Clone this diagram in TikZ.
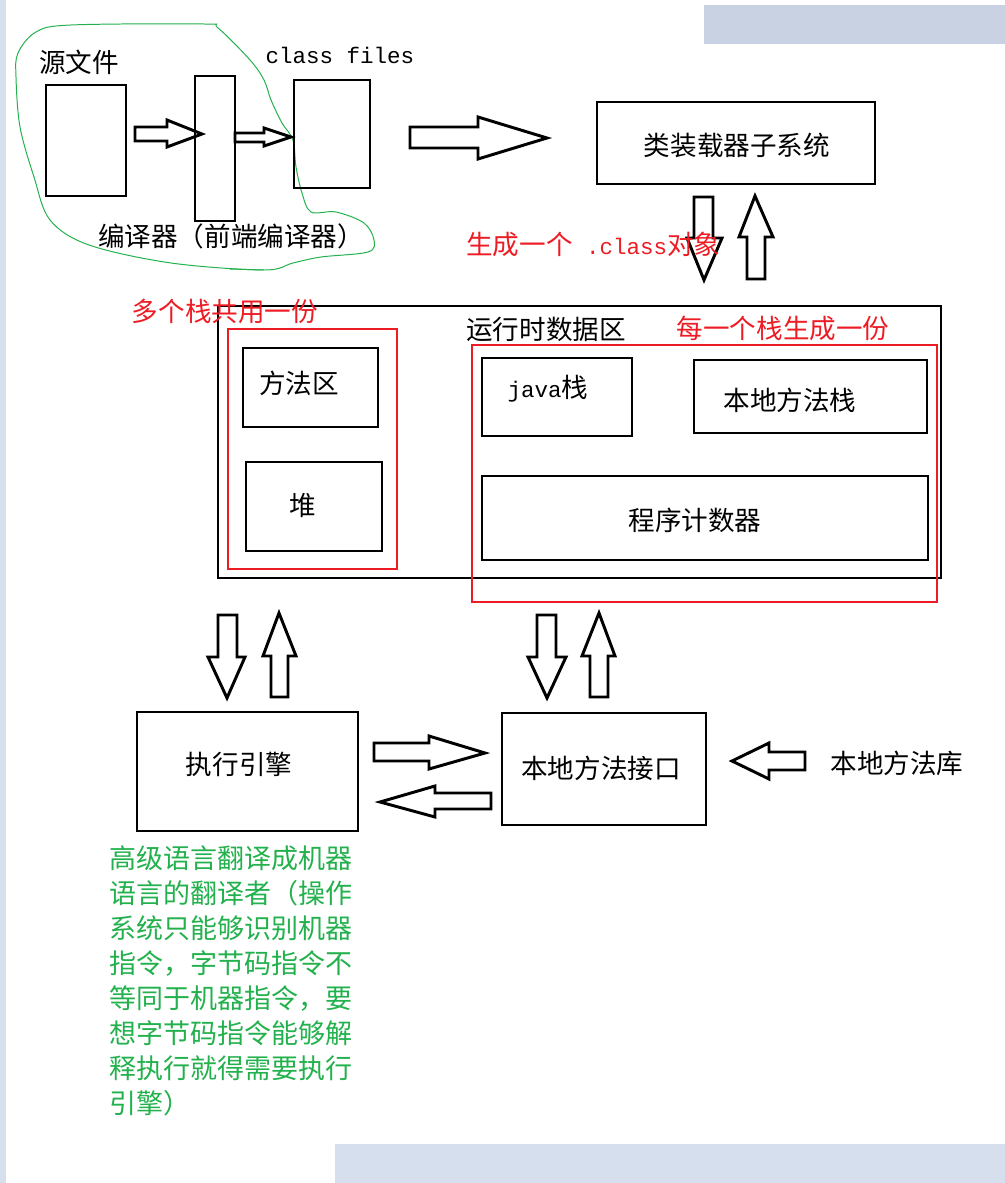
\documentclass[tikz,border=0pt]{standalone}
\usepackage{fontspec}
\setmainfont{Noto Sans CJK SC}
\newfontfamily\mono{Liberation Mono}
\definecolor{paintred}{HTML}{ED1C24}
\definecolor{paintgreen}{HTML}{22B14C}
\definecolor{band}{HTML}{D6DFED}
\definecolor{bandtop}{HTML}{C8D2E3}

\begin{document}
\begin{tikzpicture}[x=0.025cm,y=-0.025cm,
  box/.style={line width=2.1pt},
  redbox/.style={line width=2.1pt,draw=paintred},
  blockarrow/.style={line width=2.1pt,line join=miter},
  label/.style={inner sep=0pt,font=\fontsize{18.9}{22}\selectfont},
  monolabel/.style={inner sep=0pt,font=\mono\fontsize{16}{20}\selectfont}]
\useasboundingbox (0,0) rectangle (1005,1183);
\fill[band] (0,0) rectangle (6,1183);
\fill[bandtop] (704,5) rectangle (1005,44);
\fill[band] (335,1144) rectangle (1005,1183);

\draw[paintgreen,line width=0.7pt] plot[smooth cycle,tension=0.55] coordinates {(264,270) (171,263) (89,245) (50,220) (34,177) (20,127) (16,77) (18,53) (36,32) (71,25) (204,24) (218,28) (250,60) (264,80) (271,100) (282,123) (293,140) (296,167) (302,193) (311,212) (336,212) (364,223) (374,240) (368,252) (321,257) (293,263)};
\draw[paintgreen,line width=0.7pt] (230,269)--(264,270);

 \draw[box] (46,85) rectangle (126,196);
 \draw[box] (195,76) rectangle (235,221);
 \draw[box] (294,80) rectangle (370,188);
 \draw[box] (597,102) rectangle (875,184);
 \draw[box] (218,306) rectangle (941,578);
 \draw[box] (243,348) rectangle (378,427);
 \draw[box] (246,462) rectangle (382,551);
 \draw[box] (482,358) rectangle (632,436);
 \draw[box] (694,360) rectangle (927,433);
 \draw[box] (482,476) rectangle (928,560);
 \draw[box] (137,712) rectangle (358,831);
 \draw[box] (502,713) rectangle (706,825);
 \draw[redbox] (228,329) rectangle (397,569);
 \draw[redbox] (472,345) rectangle (937,602);

\draw[blockarrow] (135,127)--(167,127)--(167,120)--(202,134)--(167,147)--(167,141)--(135,141)--cycle;
\draw[blockarrow] (235,133)--(264,133)--(264,128)--(291,137)--(264,146)--(264,142)--(235,142)--cycle;
\draw[blockarrow] (410,127)--(478,127)--(478,117)--(547,138)--(478,159)--(478,148)--(410,148)--cycle;
\draw[blockarrow] (694,197)--(713,197)--(713,238)--(722,238)--(704,280)--(687,238)--(694,238)--cycle;
\draw[blockarrow] (747,279)--(765,279)--(765,237)--(773,237)--(755,196)--(739,237)--(747,237)--cycle;
\draw[blockarrow] (218,615)--(237,615)--(237,657)--(245,657)--(227,698)--(208,657)--(218,657)--cycle;
\draw[blockarrow] (271,697)--(288,697)--(288,656)--(296,656)--(279,613)--(263,656)--(271,656)--cycle;
\draw[blockarrow] (537,615)--(556,615)--(556,657)--(566,657)--(547,698)--(528,657)--(537,657)--cycle;
\draw[blockarrow] (590,697)--(608,697)--(608,656)--(615,656)--(599,613)--(582,656)--(590,656)--cycle;
\draw[blockarrow] (374,743)--(429,743)--(429,736)--(485,753)--(429,769)--(429,761)--(374,761)--cycle;
\draw[blockarrow] (491,793)--(435,793)--(435,786)--(380,802)--(435,817)--(435,809)--(491,809)--cycle;
\draw[blockarrow] (805,752)--(769,752)--(769,743)--(732,761)--(769,779)--(769,770)--(805,770)--cycle;

 \node[label] at (79,62) (src) {源文件};
 \node[monolabel] at (340,55) (cls) {class files};
 \node[label] at (231,236) (javac) {编译器（前端编译器）};
 \node[label] at (737,145) (loader) {类装载器子系统};
 \node[label,paintred,anchor=west] at (466,244) (clsobj) {生成一个{\mono\fontsize{16}{20}\selectfont{} .class}对象};
 \node[label,paintred] at (225,311) (shared) {多个栈共用一份};
 \node[label] at (546,329) (runtime) {运行时数据区};
 \node[label,paintred] at (783,328) (perstack) {每一个栈生成一份};
 \node[label] at (299,383) (method) {方法区};
 \node[label] at (303,505) (heap) {堆};
 \node[label] at (548,389) (jstack) {{\mono\fontsize{16}{20}\selectfont java}栈};
 \node[label] at (790,400) (nstack) {本地方法栈};
 \node[label] at (695,520) (pc) {程序计数器};
 \node[label] at (239,764) (engine) {执行引擎};
 \node[label] at (601,768) (jni) {本地方法接口};
 \node[label] at (897,763) (nlib) {本地方法库};
 \node[label,paintgreen,anchor=north west,align=left,font=\fontsize{19.2}{24.9}\selectfont] at (109,845) (note) {高级语言翻译成机器\\语言的翻译者（操作\\系统只能够识别机器\\指令，字节码指令不\\等同于机器指令，要\\想字节码指令能够解\\释执行就得需要执行\\引擎）};
\end{tikzpicture}
\end{document}
